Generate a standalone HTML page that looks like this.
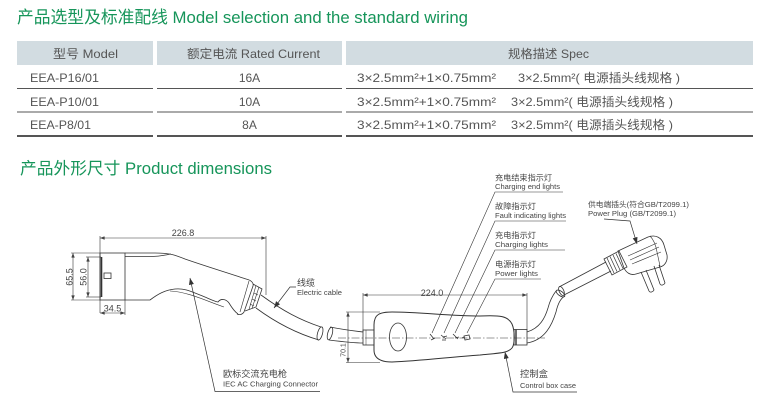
<!DOCTYPE html>
<html>
<head>
<meta charset="utf-8">
<style>
  html,body{margin:0;padding:0;background:#fff;}
  body{width:771px;height:411px;overflow:hidden;}
  svg{display:block;}
  .t{font-family:"Liberation Sans","Noto Sans CJK SC",sans-serif;}
</style>
</head>
<body>
<svg width="771" height="411" viewBox="0 0 771 411" xmlns="http://www.w3.org/2000/svg">
  <defs>
    <marker id="ar" viewBox="0 0 8 6" refX="8" refY="3" markerWidth="7" markerHeight="5" orient="auto" markerUnits="userSpaceOnUse">
      <path d="M0,0 L8,3 L0,6 z" fill="#333"/>
    </marker>
    <marker id="da" viewBox="0 0 8 6" refX="8" refY="3" markerWidth="5" markerHeight="3.5" orient="auto-start-reverse" markerUnits="userSpaceOnUse">
      <path d="M0,0 L8,3 L0,6 z" fill="#444"/>
    </marker>
  </defs>

  <!-- Title 1 -->
  <text class="t" x="17" y="23" font-size="17" fill="#16955a" textLength="451" lengthAdjust="spacingAndGlyphs">产品选型及标准配线 Model selection and the standard wiring</text>

  <!-- Table header -->
  <rect x="17" y="41" width="136" height="24" fill="#d2dce1"/>
  <rect x="157" y="41" width="185" height="24" fill="#d2dce1"/>
  <rect x="346" y="41" width="407" height="24" fill="#d2dce1"/>
  <g class="t" font-size="12" fill="#555">
    <text x="53" y="58" textLength="65" lengthAdjust="spacingAndGlyphs">型号 Model</text>
    <text x="187" y="58" textLength="133" lengthAdjust="spacingAndGlyphs">额定电流 Rated Current</text>
    <text x="508" y="58" textLength="81" lengthAdjust="spacingAndGlyphs">规格描述 Spec</text>

    <text x="30" y="82" textLength="69" lengthAdjust="spacingAndGlyphs">EEA-P16/01</text>
    <text x="30" y="106" textLength="69" lengthAdjust="spacingAndGlyphs">EEA-P10/01</text>
    <text x="30" y="129" textLength="61" lengthAdjust="spacingAndGlyphs">EEA-P8/01</text>

    <text x="249.5" y="82" text-anchor="middle">16A</text>
    <text x="249.5" y="106" text-anchor="middle">10A</text>
    <text x="249.5" y="129" text-anchor="middle">8A</text>

    <text x="357" y="82" textLength="139" lengthAdjust="spacingAndGlyphs">3×2.5mm²+1×0.75mm²</text>
    <text x="518" y="82" textLength="162" lengthAdjust="spacingAndGlyphs">3×2.5mm²( 电源插头线规格 )</text>
    <text x="357" y="106" textLength="139" lengthAdjust="spacingAndGlyphs">3×2.5mm²+1×0.75mm²</text>
    <text x="511" y="106" textLength="162" lengthAdjust="spacingAndGlyphs">3×2.5mm²( 电源插头线规格 )</text>
    <text x="357" y="129" textLength="139" lengthAdjust="spacingAndGlyphs">3×2.5mm²+1×0.75mm²</text>
    <text x="511" y="129" textLength="162" lengthAdjust="spacingAndGlyphs">3×2.5mm²( 电源插头线规格 )</text>
  </g>
  <!-- row separators -->
  <g stroke="#555" stroke-width="1">
    <line x1="17" y1="88.5" x2="153" y2="88.5"/>
    <line x1="157" y1="88.5" x2="342" y2="88.5"/>
    <line x1="346" y1="88.5" x2="753" y2="88.5"/>
    <line x1="17" y1="112" x2="153" y2="112"/>
    <line x1="157" y1="112" x2="342" y2="112"/>
    <line x1="346" y1="112" x2="753" y2="112"/>
  </g>
  <g stroke="#555" stroke-width="2">
    <line x1="17" y1="136" x2="153" y2="136"/>
    <line x1="157" y1="136" x2="342" y2="136"/>
    <line x1="346" y1="136" x2="753" y2="136"/>
  </g>

  <!-- Title 2 -->
  <text class="t" x="20" y="174" font-size="16.5" fill="#16955a" textLength="252" lengthAdjust="spacingAndGlyphs">产品外形尺寸 Product dimensions</text>

  <!-- ============ Charging connector (gun) ============ -->
  <g fill="none" stroke="#333" stroke-width="0.8">
    <!-- dimension 226.8 -->
    <line x1="100" y1="236" x2="100" y2="313" stroke-width="0.6"/>
    <line x1="266" y1="236" x2="266" y2="295" stroke-width="0.6"/>
    <line x1="100" y1="238" x2="266" y2="238" stroke-width="0.6" marker-start="url(#da)" marker-end="url(#da)"/>
    <!-- 65.5 -->
    <line x1="71" y1="253" x2="100" y2="253" stroke-width="0.6"/>
    <line x1="71" y1="300" x2="100" y2="300" stroke-width="0.6"/>
    <line x1="73" y1="253" x2="73" y2="300" stroke-width="0.6" marker-start="url(#da)" marker-end="url(#da)"/>
    <!-- 56.0 -->
    <line x1="86" y1="257" x2="101" y2="257" stroke-width="0.6"/>
    <line x1="86" y1="297" x2="101" y2="297" stroke-width="0.6"/>
    <line x1="88" y1="257" x2="88" y2="297" stroke-width="0.6" marker-start="url(#da)" marker-end="url(#da)"/>
    <!-- 34.5 -->
    <line x1="125" y1="300" x2="125" y2="315" stroke-width="0.6"/>
    <line x1="100" y1="313" x2="125" y2="313" stroke-width="0.6" marker-start="url(#da)" marker-end="url(#da)"/>

    <!-- front box -->
    <rect x="100" y="253" width="25" height="47"/>
    <line x1="101.5" y1="257" x2="101.5" y2="297" stroke-width="1.6"/>
    <rect x="104" y="273" width="7" height="5.5"/>

    <!-- body -->
    <path d="M125,253 L155,253 C170,253 175,255 185,259 C205,266 225,272 246,279"/>
    <path d="M125,256.5 L150,256.5 C160,256.5 165,255 171,254"/>
    <path d="M125,300 L150,300 C158,294 165,290 175,289 C185,288 192,292 200,295 C208,298 213,301 218,302 C221,298 226,299 229,303 C232,308 235,312 238,314"/>
    <path d="M170,291 C188,292 204,300 224,307" stroke-width="0.6"/>
    <!-- end face -->
    <path d="M246,279 C251,280 254,283 253,286 L244,312 C242,315 239,315 237,314"/>
    <path d="M249,281 L240,312" stroke-width="0.6"/>
    <!-- grommet -->
    <path d="M253,284 L262,289 L256,307 L245,311"/>
    <path d="M256,285.5 L249,309.5" stroke-width="0.6"/>
    <path d="M259,287 L252,308.5" stroke-width="0.6"/>
    <path d="M254,293 L258,295 M252,299 L256,301 M250,304 L254,306" stroke-width="0.6"/>
    <!-- cable from gun -->
    <path d="M261,295 C283,311 300,320 321,327"/>
    <path d="M256,308 C275,322 295,333 319,340"/>
    <ellipse cx="320" cy="333.5" rx="2.5" ry="6.8" transform="rotate(15 320 333.5)"/>
    <path d="M330,327 C345,330 355,331 363,332"/>
    <path d="M329,340 C345,342 355,343 363,343"/>
    <ellipse cx="330" cy="333.5" rx="2.3" ry="6.5" transform="rotate(15 330 333.5)"/>
  </g>

  <!-- gun texts -->
  <g class="t" fill="#444">
    <text x="183" y="236" font-size="9" text-anchor="middle">226.8</text>
    <text transform="translate(72.5 277) rotate(-90)" font-size="9" text-anchor="middle">65.5</text>
    <text transform="translate(86.5 277) rotate(-90)" font-size="9" text-anchor="middle">56.0</text>
    <text x="112.5" y="311.5" font-size="9" text-anchor="middle">34.5</text>
    <text x="297" y="286" font-size="9">线缆</text>
    <text x="297" y="295" font-size="7" textLength="45" lengthAdjust="spacingAndGlyphs">Electric cable</text>
    <text x="223" y="377" font-size="9.2" textLength="64" lengthAdjust="spacingAndGlyphs">欧标交流充电枪</text>
    <text x="223" y="386.5" font-size="7.5" textLength="95" lengthAdjust="spacingAndGlyphs">IEC AC Charging Connector</text>
  </g>
  <!-- gun leaders -->
  <g fill="none" stroke="#333" stroke-width="0.7">
    <polyline points="296,287 290,287 274,308" marker-end="url(#ar)"/>
    <polyline points="320,391.5 215,391.5 190,278" marker-end="url(#ar)"/>
  </g>

  <!-- ============ Control box ============ -->
  <g fill="none" stroke="#333" stroke-width="0.8">
    <!-- 224.0 dim -->
    <line x1="363" y1="293" x2="363" y2="332" stroke-width="0.6"/>
    <line x1="527" y1="293" x2="527" y2="330" stroke-width="0.6"/>
    <line x1="363" y1="295" x2="527" y2="295" stroke-width="0.6" marker-start="url(#da)" marker-end="url(#da)"/>
    <!-- 70.1 dim -->
    <line x1="346" y1="312" x2="380" y2="312" stroke-width="0.6"/>
    <line x1="346" y1="362.5" x2="380" y2="362.5" stroke-width="0.6"/>
    <line x1="348" y1="312" x2="348" y2="362.5" stroke-width="0.6" marker-start="url(#da)" marker-end="url(#da)"/>
    <!-- centerline -->
    <line x1="338" y1="338" x2="545" y2="338" stroke-width="0.5" stroke-dasharray="8 2 1.5 2"/>
    <!-- collars -->
    <rect x="363" y="330" width="11" height="15"/>
    <line x1="366" y1="330" x2="366" y2="345" stroke-width="0.5"/>
    <rect x="514" y="329.5" width="13" height="15.5"/>
    <line x1="516" y1="329.5" x2="516" y2="345" stroke-width="1.4"/>
    <!-- body -->
    <path d="M374,325 C374,314 380,312 392,312 C420,312 450,316 480,316 C500,315 508,316 512,324 C515,331 515,344 512,348 C508,353 500,353 480,355 C450,357 420,361 392,362 C380,362 374,358 374,350 Z" stroke-width="1"/>
    <ellipse cx="398" cy="337" rx="8.5" ry="14"/>
    <!-- LEDs -->
    <path d="M430,334 L434,339 M431,340 L435,338" stroke-width="0.8"/>
    <path d="M441,335 L446,339 M443,337 L447,336 M442,340 L446,340" stroke-width="0.8"/>
    <path d="M453,334 L458,339 M455,338 L459,337" stroke-width="0.8"/>
    <path d="M464,336 L469,335 L470,339 L465,340 Z M462,338 L464,337" stroke-width="0.8"/>
    <!-- LED leaders + underlines -->
    <g stroke-width="0.6">
      <polyline points="563,192 495,192 432,333"/>
      <polyline points="566,221 495,221 444,333"/>
      <polyline points="565,250 495,250 455,333"/>
      <polyline points="541,279 495,279 467,333"/>
    </g>
    <!-- control box leader -->
    <polyline points="577,392 513,392 505,352" stroke-width="0.7" marker-end="url(#ar)"/>

    <!-- right cable segment 1 -->
    <path d="M527,332 C540,328 545,318 548,308 C550,300 553,295 556,291"/>
    <path d="M527,343 C545,340 552,325 556,312 C558,303 561,298 565,296"/>
    <ellipse cx="560.5" cy="293.5" rx="5" ry="2.3" transform="rotate(35 560.5 293.5)"/>
    <!-- segment 2 -->
    <path d="M559,287 L606,262"/>
    <path d="M564,295 L611,271"/>
    <ellipse cx="561.5" cy="291" rx="2.3" ry="4.8" transform="rotate(-25 561.5 291)"/>

    <!-- plug strain relief -->
    <path d="M604,259 L619,251 L627,267 L612,275 Z"/>
    <path d="M607,258 L614,273 M610,256.5 L617,271.5 M613,255 L620,270 M616,253.5 L623,268.5" stroke-width="0.7"/>
    <!-- plug body -->
    <path d="M618,251 L648,237 C656,234 662,238 664,245 L667,255 C668,262 664,266 660,267 L636,274 C630,276 626,272 624,268 Z"/>
    <path d="M628,256 L657,243 M630,260 L659,247 M632,264 L661,252" stroke-width="0.6"/>
    <path d="M650,236 C654,240 656,246 657,252 L660,266" stroke-width="0.6"/>
    <!-- pins -->
    <path d="M641,272 L649,291 C650,293 653,292 654,290 L646,270"/>
    <path d="M654,266 L660,284 C661,286 664,285 665,283 L659,265"/>
    <!-- plug leader -->
    <polyline points="604,219 630,221 637,244" stroke-width="0.7" marker-end="url(#ar)"/>
  </g>

  <!-- control box texts -->
  <g class="t" fill="#444">
    <text x="432" y="296" font-size="9" text-anchor="middle">224.0</text>
    <text transform="translate(345.5 350) rotate(-90)" font-size="7" text-anchor="middle">70.1</text>

    <text x="495" y="180.5" font-size="8" textLength="57" lengthAdjust="spacingAndGlyphs">充电结束指示灯</text>
    <text x="495" y="189" font-size="7" textLength="65" lengthAdjust="spacingAndGlyphs">Charging end lights</text>
    <text x="495" y="209" font-size="8" textLength="41" lengthAdjust="spacingAndGlyphs">故障指示灯</text>
    <text x="495" y="218" font-size="7" textLength="71" lengthAdjust="spacingAndGlyphs">Fault indicating lights</text>
    <text x="495" y="238" font-size="8" textLength="41" lengthAdjust="spacingAndGlyphs">充电指示灯</text>
    <text x="495" y="247" font-size="7" textLength="53" lengthAdjust="spacingAndGlyphs">Charging lights</text>
    <text x="495" y="267" font-size="8" textLength="41" lengthAdjust="spacingAndGlyphs">电源指示灯</text>
    <text x="495" y="276" font-size="7" textLength="43" lengthAdjust="spacingAndGlyphs">Power lights</text>

    <text x="520" y="377" font-size="9.3" textLength="28" lengthAdjust="spacingAndGlyphs">控制盒</text>
    <text x="520" y="388" font-size="7" textLength="56" lengthAdjust="spacingAndGlyphs">Control box case</text>

    <text x="588" y="207" font-size="7.5" textLength="101" lengthAdjust="spacingAndGlyphs">供电端插头(符合GB/T2099.1)</text>
    <text x="588" y="216" font-size="7.5" textLength="88" lengthAdjust="spacingAndGlyphs">Power Plug (GB/T2099.1)</text>
  </g>
</svg>
</body>
</html>
